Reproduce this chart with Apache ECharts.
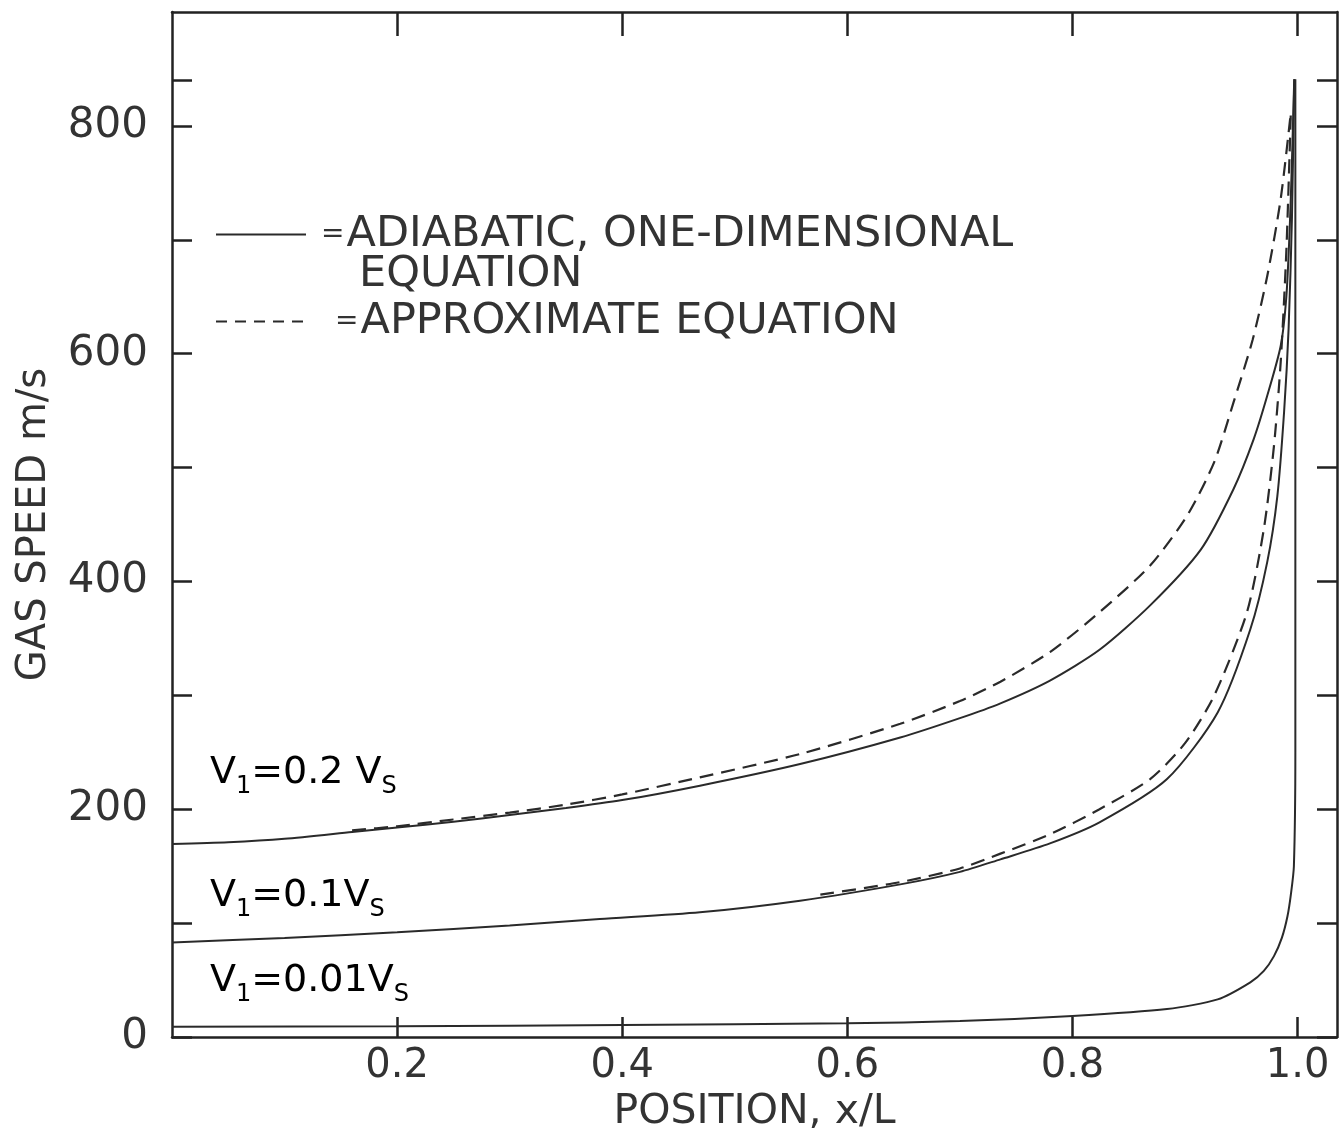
<!DOCTYPE html>
<html>
<head>
<meta charset="utf-8">
<script src="https://cdn.jsdelivr.net/npm/echarts@6/dist/echarts.min.js"></script>
<style>
  html, body { margin: 0; padding: 0; background: #ffffff; }
  #chart { width: 1342px; height: 1138px; }
</style>
</head>
<body>
<div id="chart"></div>
<script>
// ---- data (x/L, gas speed m/s) ----
const xTickValues = [0.2, 0.4, 0.6, 0.8, 1.0];
const yTickValues = [0, 100, 200, 300, 400, 500, 600, 700, 800, 840];
const yLabelValues = [0, 200, 400, 600, 800];

const adiabatic02 = [[0,169.5],[0.05,171],[0.1,174],[0.16,180],[0.2,184],[0.25,189],[0.3,195],[0.35,201],[0.4,208],[0.469,220.7],[0.558,239.7],[0.647,263],[0.7,280],[0.736,293],[0.78,313],[0.824,340],[0.869,379],[0.914,428],[0.943,481],[0.961,525],[0.973,563],[0.985,607],[0.99,650],[0.993,710],[0.995,770],[0.997,841]];
const approx02 = [[0.16,181.5],[0.2,185],[0.25,191],[0.3,197],[0.35,204],[0.4,213],[0.469,228],[0.558,248.5],[0.647,275],[0.7,295],[0.736,312],[0.78,338],[0.824,373],[0.869,414],[0.902,458],[0.926,505],[0.943,557],[0.96,612],[0.973,668],[0.985,736],[0.994,812]];
const adiabatic01 = [[0,83],[0.1,87],[0.2,92],[0.3,98],[0.38,103.6],[0.469,109.5],[0.558,119.7],[0.647,134],[0.7,145],[0.736,156],[0.78,170],[0.824,188.5],[0.884,226.5],[0.929,285],[0.958,358],[0.973,417],[0.982,475],[0.988,549],[0.992,622],[0.995,720],[0.997,841]];
const approx01 = [[0.576,125],[0.647,136],[0.7,148],[0.736,161],[0.78,178],[0.824,200],[0.869,226.5],[0.9,258],[0.926,300],[0.955,373],[0.97,446],[0.979,519],[0.985,593],[0.99,690],[0.994,812]];
const adiabatic001 = [[0,9],[0.2,9.5],[0.4,10.5],[0.6,12],[0.7,14],[0.8,18.5],[0.884,24.6],[0.929,33],[0.958,48],[0.97,58],[0.979,71],[0.986,87],[0.991,106],[0.994,125],[0.9967,150],[0.998,250],[0.998,841]];

const NAME_A = 'ADIABATIC, ONE-DIMENSIONAL EQUATION';
const NAME_B = 'APPROXIMATE EQUATION';

const FONT = "'DejaVu Sans', 'Liberation Sans', sans-serif";
const INK = '#333333';
const LINE = '#2a2a2a';

const chart = echarts.init(document.getElementById('chart'));

function solid(data) {
  return { type: 'line', name: NAME_A, data: data, symbol: 'none', smooth: 0.25,
    lineStyle: { color: LINE, width: 2 }, itemStyle: { color: LINE }, z: 3 };
}
function dashed(data) {
  return { type: 'line', name: NAME_B, data: data, symbol: 'none', smooth: 0.25,
    lineStyle: { color: LINE, width: 2.2, type: [14, 8] }, itemStyle: { color: LINE }, z: 3 };
}

const labelRich = {
  v: { fontSize: 38, fontFamily: FONT, color: INK, lineHeight: 52, verticalAlign: 'middle' },
  s: { fontSize: 24, fontFamily: FONT, color: INK, lineHeight: 24, verticalAlign: 'bottom' }
};

const baseTextRich = {
  t: { fontSize: 43, fontFamily: FONT, color: INK, lineHeight: 40 },
  e: { fontSize: 28, fontFamily: FONT, color: INK, lineHeight: 40, padding: [0, 2, 0, 10] },
  e2: { fontSize: 28, fontFamily: FONT, color: INK, lineHeight: 40, padding: [0, 2, 0, 24] },
  i: { fontSize: 43, fontFamily: FONT, color: INK, lineHeight: 40, padding: [0, 0, 0, 48] }
};

const hiddenSymbol = { color: 'rgba(0,0,0,0)', borderWidth: 0, opacity: 0 };

const option = {
  backgroundColor: '#ffffff',
  animation: false,
  grid: { left: 172, right: 5, top: 12, bottom: 101, containLabel: false, outerBoundsMode: 'none' },
  legend: [
    {
      data: [NAME_A], orient: 'vertical', left: 215, top: 173, padding: 0,
      itemWidth: 90, itemHeight: 14, selectedMode: false,
      lineStyle: { width: 2, color: LINE },
      itemStyle: hiddenSymbol,
      formatter: function () { return '{t| }\n{e|=}{t|ADIABATIC, ONE-DIMENSIONAL}\n{i|EQUATION}'; },
      textStyle: { rich: baseTextRich }
    },
    {
      data: [NAME_B], orient: 'vertical', left: 215, top: 300, padding: 0,
      itemWidth: 90, itemHeight: 14, selectedMode: false,
      lineStyle: { width: 2, color: LINE, type: [11, 8] },
      itemStyle: hiddenSymbol,
      formatter: function () { return '{e2|=}{t|APPROXIMATE EQUATION}'; },
      textStyle: { rich: baseTextRich }
    }
  ],
  xAxis: [
    {
      type: 'value', position: 'bottom', min: 0, max: 1.035, interval: 0.2,
      name: 'POSITION, x/L', nameLocation: 'middle', nameGap: 55,
      nameTextStyle: { fontSize: 41, fontFamily: FONT, color: INK },
      axisLine: { show: true, onZero: false, lineStyle: { color: '#222', width: 2.5 } },
      axisTick: { show: true, inside: true, length: 20, customValues: xTickValues, lineStyle: { color: '#222', width: 2.5 } },
      axisLabel: { show: true, customValues: xTickValues, margin: 10, fontSize: 40, fontFamily: FONT, color: INK,
        formatter: function (v) { return v.toFixed(1); } },
      splitLine: { show: false }
    },
    {
      type: 'value', position: 'top', min: 0, max: 1.035, interval: 0.2,
      axisLine: { show: true, onZero: false, lineStyle: { color: '#222', width: 2.5 } },
      axisTick: { show: true, inside: true, length: 24, customValues: xTickValues, lineStyle: { color: '#222', width: 2.5 } },
      axisLabel: { show: false },
      splitLine: { show: false }
    }
  ],
  yAxis: [
    {
      type: 'value', position: 'left', min: 0, max: 900, interval: 100,
      name: 'GAS SPEED m/s', nameLocation: 'middle', nameGap: 117, nameRotate: 90,
      nameTextStyle: { fontSize: 40, fontFamily: FONT, color: INK },
      axisLine: { show: true, onZero: false, lineStyle: { color: '#222', width: 2.5 } },
      axisTick: { show: true, inside: true, length: 20, customValues: yTickValues, lineStyle: { color: '#222', width: 2.5 } },
      axisLabel: { show: true, customValues: yLabelValues, margin: 24, fontSize: 42, fontFamily: FONT, color: INK },
      splitLine: { show: false }
    },
    {
      type: 'value', position: 'right', min: 0, max: 900, interval: 100,
      axisLine: { show: true, onZero: false, lineStyle: { color: '#222', width: 2.5 } },
      axisTick: { show: true, inside: true, length: 20, customValues: yTickValues, lineStyle: { color: '#222', width: 2.5 } },
      axisLabel: { show: false },
      splitLine: { show: false }
    }
  ],
  series: [
    solid(adiabatic02),
    solid(adiabatic01),
    solid(adiabatic001),
    dashed(approx02),
    dashed(approx01)
  ],
  graphic: [
    { type: 'text', left: 210, top: 754, style: { text: '{v|V}{s|1}{v|=0.2 V}{s|S}', rich: labelRich } },
    { type: 'text', left: 210, top: 877, style: { text: '{v|V}{s|1}{v|=0.1V}{s|S}', rich: labelRich } },
    { type: 'text', left: 210, top: 962, style: { text: '{v|V}{s|1}{v|=0.01V}{s|S}', rich: labelRich } }
  ]
};

chart.setOption(option);
</script>
</body>
</html>
